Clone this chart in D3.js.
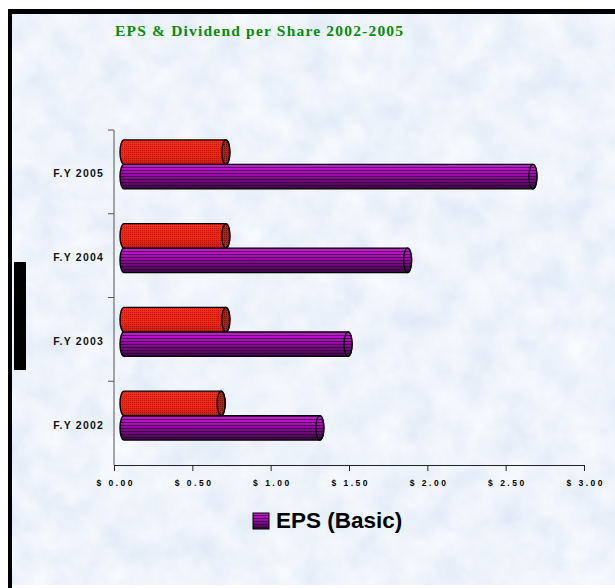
<!DOCTYPE html>
<html><head><meta charset="utf-8">
<script src="https://cdn.jsdelivr.net/npm/d3@7"></script>
<style>html,body{margin:0;padding:0;background:#fff;} svg{display:block}</style>
</head><body><svg id="c" width="615" height="588"></svg>
<script>
// ---- data ----
const categories = ["F.Y 2002", "F.Y 2003", "F.Y 2004", "F.Y 2005"];
const seriesNames = ["Dividend", "EPS (Basic)"];
const dividend = [0.62, 0.65, 0.65, 0.65];
const eps = [1.25, 1.43, 1.81, 2.61];
const xTicks = [0, 0.5, 1, 1.5, 2, 2.5, 3];
const xTickLabels = ["$ 0.00", "$ 0.50", "$ 1.00", "$ 1.50", "$ 2.00", "$ 2.50", "$ 3.00"];
const titleText = "EPS & Dividend per Share 2002-2005";
const legendLabel = "EPS (Basic)";

// ---- setup ----
const svg = d3.select("#c");
const defs = svg.append("defs");

// background texture (single noise channel -> light blue tones)
const f = defs.append("filter").attr("id", "tex").attr("x", 0).attr("y", 0).attr("width", 1).attr("height", 1);
f.append("feTurbulence").attr("type", "fractalNoise").attr("baseFrequency", "0.03").attr("numOctaves", 4).attr("seed", 7).attr("result", "n");
f.append("feColorMatrix").attr("in", "n").attr("type", "matrix")
  .attr("values", "0.26 0 0 0 0.72  0.2 0 0 0 0.80  0.09 0 0 0 0.918  0 0 0 0 1");

// red dotted pattern
const pr = defs.append("pattern").attr("id", "redpat").attr("patternUnits", "userSpaceOnUse").attr("width", 2).attr("height", 2);
pr.append("rect").attr("width", 2).attr("height", 2).attr("fill", "#ff2414");
pr.append("rect").attr("width", 1).attr("height", 1).attr("fill", "#c0140a");
const prc = defs.append("pattern").attr("id", "redcap").attr("patternUnits", "userSpaceOnUse").attr("width", 2).attr("height", 2);
prc.append("rect").attr("width", 2).attr("height", 2).attr("fill", "#b02414");
prc.append("rect").attr("width", 1).attr("height", 1).attr("fill", "#6a1008");

// purple stripes
const ps = defs.append("pattern").attr("id", "stripes").attr("patternUnits", "userSpaceOnUse").attr("width", 4).attr("height", 3);
ps.append("rect").attr("y", 2).attr("width", 4).attr("height", 1).attr("fill", "#1a001c").attr("opacity", 0.6);

const pg = defs.append("linearGradient").attr("id", "purpgrad").attr("x1", 0).attr("y1", 0).attr("x2", 0).attr("y2", 1);
pg.append("stop").attr("offset", 0).attr("stop-color", "#c81ed4");
pg.append("stop").attr("offset", 0.35).attr("stop-color", "#a80cb8");
pg.append("stop").attr("offset", 1).attr("stop-color", "#3a0644");

const rg = defs.append("linearGradient").attr("id", "redshade").attr("x1", 0).attr("y1", 0).attr("x2", 0).attr("y2", 1);
rg.append("stop").attr("offset", 0).attr("stop-color", "#fff").attr("stop-opacity", 0.05);
rg.append("stop").attr("offset", 0.6).attr("stop-color", "#000").attr("stop-opacity", 0);
rg.append("stop").attr("offset", 1).attr("stop-color", "#000").attr("stop-opacity", 0.18);

// panel + border
svg.append("rect").attr("x", 12).attr("y", 14).attr("width", 603).attr("height", 571).attr("filter", "url(#tex)");
svg.append("rect").attr("x", 8).attr("y", 9).attr("width", 607).attr("height", 5).attr("fill", "#000");
svg.append("rect").attr("x", 8).attr("y", 9).attr("width", 4).attr("height", 579).attr("fill", "#000");
svg.append("rect").attr("x", 14).attr("y", 262).attr("width", 12).attr("height", 108).attr("fill", "#000");

// title
svg.append("text").attr("x", 115).attr("y", 36).attr("textLength", 288).attr("lengthAdjust", "spacing")
  .attr("font-family", "Liberation Serif, Times New Roman, serif").attr("font-weight", "bold")
  .attr("font-size", 15.5).attr("fill", "#0a8a0a").text(titleText);

// scales
const x = d3.scaleLinear().domain([0, 3]).range([114, 584]);
const y = d3.scaleBand().domain(categories.slice().reverse()).range([130, 465]).paddingInner(0.415).paddingOuter(0.2075);
const ys = d3.scaleBand().domain(seriesNames).range([0, y.bandwidth()]);
const depthX = 10, depthY = -7.5, rx = 4;

// axes
const gx = svg.append("g").attr("transform", "translate(0,465)")
  .call(d3.axisBottom(x).tickValues(xTicks).tickFormat((d, i) => xTickLabels[i]).tickSizeOuter(0).tickSize(6).tickPadding(9));
gx.select(".domain").attr("stroke", "#222");
gx.selectAll(".tick line").attr("stroke", "#222");
gx.selectAll(".tick text").attr("font-family", "Liberation Sans, Arial, sans-serif").attr("font-weight", "bold")
  .attr("font-size", 8.5).attr("letter-spacing", "2.5px").attr("fill", "#000").attr("dx", "1.2");

const gy = svg.append("g").attr("transform", "translate(114,0)");
gy.append("line").attr("x1", 0).attr("x2", 0).attr("y1", 130).attr("y2", 465).attr("stroke", "#555");
const step = y.step();
const bounds = categories.map(c => y(c) - y.paddingInner() * step / 2);
gy.selectAll(".bt").data(bounds).join("line").attr("class", "bt")
  .attr("x1", -6).attr("x2", 0).attr("y1", d => d).attr("y2", d => d).attr("stroke", "#555");
gy.selectAll(".lab").data(categories).join("text").attr("class", "lab")
  .attr("x", -10).attr("y", c => y(c) + y.bandwidth() / 2 + 5.5)
  .attr("text-anchor", "end").attr("font-family", "Liberation Sans, Arial, sans-serif")
  .attr("font-weight", "bold").attr("font-size", 10.5).attr("letter-spacing", "1.2px").attr("fill", "#111").text(c => c);

// bars
function cyl(x0, x1, y0, h) {
  const r = h / 2;
  return `M${x0},${y0}L${x1},${y0}A${rx},${r} 0 0 1 ${x1},${y0 + h}L${x0},${y0 + h}A${rx},${r} 0 0 1 ${x0},${y0}Z`;
}
const rows = [];
categories.forEach((c, i) => {
  rows.push({ c, s: seriesNames[0], v: dividend[i] });
  rows.push({ c, s: seriesNames[1], v: eps[i] });
});
const order = [];
categories.forEach(c => {
  order.push(rows.find(r => r.c === c && r.s === seriesNames[1]));
  order.push(rows.find(r => r.c === c && r.s === seriesNames[0]));
});
const gb = svg.append("g");
order.forEach(r => {
  const h = ys.bandwidth();
  const y0 = y(r.c) + ys(r.s) + depthY;
  const x0 = x(0) + depthX, x1 = x(r.v) + depthX;
  const p = cyl(x0, x1, y0, h);
  const g = gb.append("g");
  if (r.s === seriesNames[0]) {
    g.append("path").attr("d", p).attr("fill", "url(#redpat)");
    g.append("path").attr("d", p).attr("fill", "url(#redshade)").attr("stroke", "#000").attr("stroke-width", 1.4);
    g.append("ellipse").attr("cx", x1).attr("cy", y0 + h / 2).attr("rx", rx).attr("ry", h / 2)
      .attr("fill", "url(#redcap)").attr("stroke", "#000").attr("stroke-width", 1.4);
  } else {
    g.append("path").attr("d", p).attr("fill", "url(#purpgrad)");
    g.append("path").attr("d", p).attr("fill", "url(#stripes)").attr("stroke", "#000").attr("stroke-width", 1.4);
    g.append("ellipse").attr("cx", x1).attr("cy", y0 + h / 2).attr("rx", rx).attr("ry", h / 2)
      .attr("fill", "url(#purpgrad)");
    g.append("ellipse").attr("cx", x1).attr("cy", y0 + h / 2).attr("rx", rx).attr("ry", h / 2)
      .attr("fill", "url(#stripes)").attr("stroke", "#000").attr("stroke-width", 1.4);
  }
});

// legend
const lg = svg.append("g");
lg.append("rect").attr("x", 253).attr("y", 513).attr("width", 16).attr("height", 16).attr("fill", "url(#purpgrad)");
lg.append("rect").attr("x", 253).attr("y", 513).attr("width", 16).attr("height", 16).attr("fill", "url(#stripes)")
  .attr("stroke", "#000").attr("stroke-width", 1);
lg.append("text").attr("x", 276).attr("y", 528).attr("font-family", "Liberation Sans, Arial, sans-serif")
  .attr("font-weight", "bold").attr("font-size", 22.5).attr("fill", "#000").text(legendLabel);
</script></body></html>
